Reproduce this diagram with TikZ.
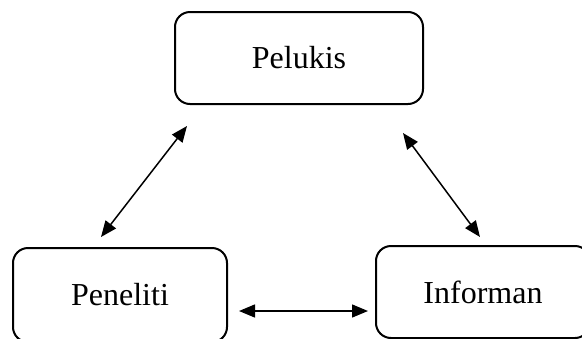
\documentclass[tikz,border=0pt]{standalone}
\usepackage{fontspec}
\setmainfont{Liberation Serif}
\usetikzlibrary{arrows.meta}
\begin{document}
\begin{tikzpicture}[x=1pt,y=-1pt]
    \tikzset{box/.style={draw, line width=2pt, rounded corners=15pt, inner sep=0pt,
        font=\fontsize{32}{38}\selectfont},
        link/.style={{Triangle[length=16pt,width=13pt]}-{Triangle[length=16pt,width=13pt]}, line width=1.5pt}}
    \useasboundingbox (0,0) rectangle (582,338);
    \clip (0,0) rectangle (582,338);
    %Kotak
    \node[box, minimum width=248pt, minimum height=92pt] (pelukis) at (299,58)     {Pelukis\hspace{12pt}};
    \node[box, minimum width=214pt, minimum height=94pt] (peneliti) at (120,295)   {Peneliti};
    \node[box, minimum width=214pt, minimum height=92pt] (informan) at (483,292)   {Informan};

    %Panah
    \draw[link] ([shift={(13,21)}]pelukis.south west) -- ([shift={(89,-10)}]peneliti.north west);
    \draw[link] ([shift={(-21,28)}]pelukis.south east) -- ([shift={(105,-8)}]informan.north west);
    \draw[link] ([shift={(11,16)}]peneliti.east) -- ([shift={(-7,19)}]informan.west);
\end{tikzpicture}
\end{document}
